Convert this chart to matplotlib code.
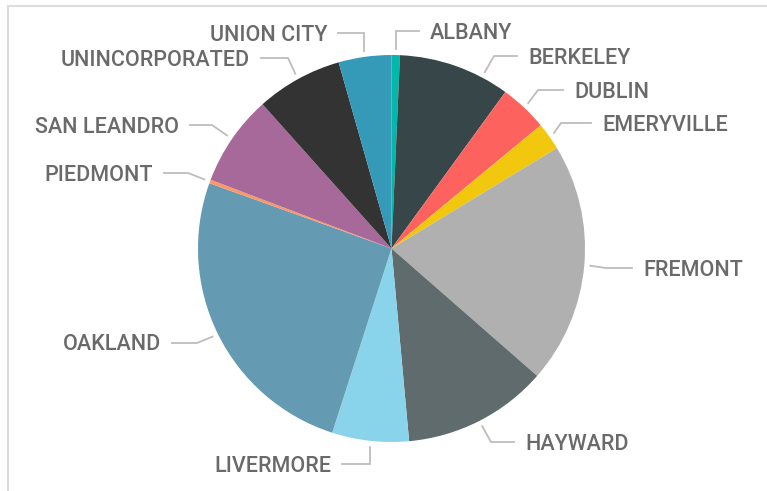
import numpy as np
import matplotlib
matplotlib.use("Agg")
import matplotlib.pyplot as plt
from matplotlib.lines import Line2D

# --- DATA (share of total, %) ---
cities = ["ALBANY", "BERKELEY", "DUBLIN", "EMERYVILLE", "FREMONT", "HAYWARD",
          "LIVERMORE", "OAKLAND", "PIEDMONT", "SAN LEANDRO", "UNINCORPORATED",
          "UNION CITY"]
shares = [0.7, 9.3, 4.0, 2.3, 20.1, 12.1, 6.4, 25.5, 0.3, 7.6, 7.2, 4.4]
colors = ["#01B8AA", "#374649", "#FD625E", "#F2C80F", "#B0B0B0", "#5F6B6D",
          "#8AD4EB", "#659BB2", "#FE9666", "#A66999", "#333333", "#3599B8"]

# --- LAYOUT (pixels, image coords: y grows downward) ---
W, H = 767, 491
CX, CY, R = 391.5, 248.5, 193.5
# label anchor x, label centre y, elbow x, side (+1 right / -1 left)
label_pos = {
    "ALBANY":         (430, 31, None, 1),
    "BERKELEY":       (528, 56, 494, 1),
    "DUBLIN":         (574, 90, 538, 1),
    "EMERYVILLE":     (602, 123, 561, 1),
    "FREMONT":        (643, 268, 606, 1),
    "HAYWARD":        (525, 442, 491, 1),
    "LIVERMORE":      (331, 464, None, -1),
    "OAKLAND":        (161, 343, 197, -1),
    "PIEDMONT":       (153, 173, 188, -1),
    "SAN LEANDRO":    (179, 125, 212, -1),
    "UNINCORPORATED": (250, 58, 288, -1),
    "UNION CITY":     (327, 33, None, -1),
}
# leader shifted away from the slice middle (as in the original)
leader_shift = {"BERKELEY": -8.6}

TEXT_COLOR = "#6A6A6A"
LINE_COLOR = "#BDBDBD"
FRAME_COLOR = "#DDDDDD"

fig = plt.figure(figsize=(W / 100, H / 100), dpi=100)
ax = fig.add_axes([0, 0, 1, 1])

wedges, _ = ax.pie(shares, colors=colors, startangle=90, counterclock=False,
                   radius=R, center=(CX, H - CY),
                   wedgeprops=dict(linewidth=0))
ax.set_xlim(0, W)
ax.set_ylim(0, H)
ax.set_aspect("equal")
ax.axis("off")

for w, name in zip(wedges, cities):
    tx, ty, ex, side = label_pos[name]
    mid = np.deg2rad((w.theta1 + w.theta2) / 2 + leader_shift.get(name, 0))
    r0 = R + 6
    sx = CX + r0 * np.cos(mid)
    sy = (H - CY) + r0 * np.sin(mid)
    if ex is None:
        ex = sx
    ly = H - ty
    lx_end = tx - 11 if side > 0 else tx + 11
    ax.add_line(Line2D([sx, ex, lx_end], [sy, ly, ly], color=LINE_COLOR,
                       lw=1.3, solid_joinstyle="miter"))
    ax.text(tx, ly - 7.5, name, ha="left" if side > 0 else "right",
            va="baseline", fontsize=15.5, color=TEXT_COLOR, family="Roboto",
            fontweight="medium")

# card frame (top and left edges)
fig.add_artist(Line2D([8 / W, 1], [1 - 6 / H, 1 - 6 / H], transform=fig.transFigure,
                      color=FRAME_COLOR, lw=1.5))
fig.add_artist(Line2D([8 / W, 8 / W], [0, 1 - 6 / H], transform=fig.transFigure,
                      color=FRAME_COLOR, lw=1.5))

fig.savefig("out.png", dpi=100)
